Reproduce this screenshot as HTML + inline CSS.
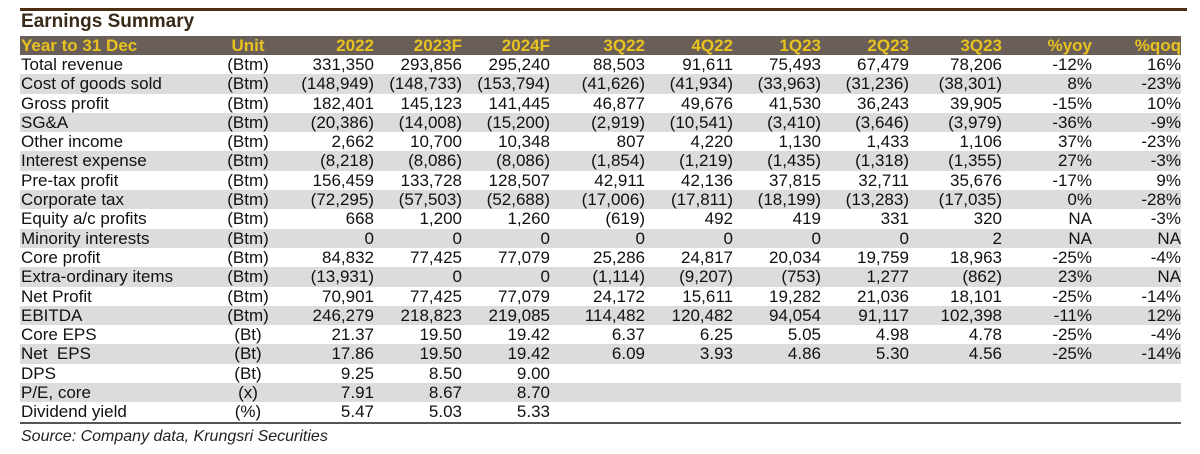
<!DOCTYPE html>
<html><head><meta charset="utf-8"><style>
body{margin:0;background:#fff;width:1200px;height:454px;position:relative;overflow:hidden;font-family:"Liberation Sans",Arial,sans-serif;}
.topline{position:absolute;left:20px;top:8px;width:1167px;height:3px;background:#4a3010;}
.title{position:absolute;left:21px;top:11px;font-size:19px;font-weight:bold;color:#3a2a18;}
table{position:absolute;left:20px;top:36px;width:1161px;border-collapse:collapse;table-layout:fixed;font-size:17px;color:#111;}
td{padding:0;height:19.3px;line-height:19.3px;text-align:right;white-space:nowrap;overflow:visible;}
td:first-child{text-align:left;padding-left:1px;}
td:nth-child(2){text-align:center;}
tr.h td{background:#6a5e58;color:#e8c21e;font-weight:bold;height:19px;line-height:19px;}
tr:nth-child(odd):not(.h) td{background:#dcdcdc;}
tr.last td{border-bottom:2px solid #555;}
.src{position:absolute;left:21px;top:428px;font-size:16px;font-style:italic;color:#222;}
</style></head><body>
<div class="topline"></div>
<div class="title">Earnings Summary</div>
<table>
<colgroup><col style="width:195px"><col style="width:66px"><col style="width:93px"><col style="width:88px"><col style="width:88px"><col style="width:95px"><col style="width:88px"><col style="width:88px"><col style="width:88px"><col style="width:93px"><col style="width:90px"><col style="width:89px"></colgroup>
<tr class="h"><td>Year to 31 Dec</td><td>Unit</td><td>2022</td><td>2023F</td><td>2024F</td><td>3Q22</td><td>4Q22</td><td>1Q23</td><td>2Q23</td><td>3Q23</td><td>%yoy</td><td>%qoq</td></tr>
<tr><td>Total revenue</td><td>(Btm)</td><td>331,350</td><td>293,856</td><td>295,240</td><td>88,503</td><td>91,611</td><td>75,493</td><td>67,479</td><td>78,206</td><td>-12%</td><td>16%</td></tr>
<tr><td>Cost of goods sold</td><td>(Btm)</td><td>(148,949)</td><td>(148,733)</td><td>(153,794)</td><td>(41,626)</td><td>(41,934)</td><td>(33,963)</td><td>(31,236)</td><td>(38,301)</td><td>8%</td><td>-23%</td></tr>
<tr><td>Gross profit</td><td>(Btm)</td><td>182,401</td><td>145,123</td><td>141,445</td><td>46,877</td><td>49,676</td><td>41,530</td><td>36,243</td><td>39,905</td><td>-15%</td><td>10%</td></tr>
<tr><td>SG&amp;A</td><td>(Btm)</td><td>(20,386)</td><td>(14,008)</td><td>(15,200)</td><td>(2,919)</td><td>(10,541)</td><td>(3,410)</td><td>(3,646)</td><td>(3,979)</td><td>-36%</td><td>-9%</td></tr>
<tr><td>Other income</td><td>(Btm)</td><td>2,662</td><td>10,700</td><td>10,348</td><td>807</td><td>4,220</td><td>1,130</td><td>1,433</td><td>1,106</td><td>37%</td><td>-23%</td></tr>
<tr><td>Interest expense</td><td>(Btm)</td><td>(8,218)</td><td>(8,086)</td><td>(8,086)</td><td>(1,854)</td><td>(1,219)</td><td>(1,435)</td><td>(1,318)</td><td>(1,355)</td><td>27%</td><td>-3%</td></tr>
<tr><td>Pre-tax profit</td><td>(Btm)</td><td>156,459</td><td>133,728</td><td>128,507</td><td>42,911</td><td>42,136</td><td>37,815</td><td>32,711</td><td>35,676</td><td>-17%</td><td>9%</td></tr>
<tr><td>Corporate tax</td><td>(Btm)</td><td>(72,295)</td><td>(57,503)</td><td>(52,688)</td><td>(17,006)</td><td>(17,811)</td><td>(18,199)</td><td>(13,283)</td><td>(17,035)</td><td>0%</td><td>-28%</td></tr>
<tr><td>Equity a/c profits</td><td>(Btm)</td><td>668</td><td>1,200</td><td>1,260</td><td>(619)</td><td>492</td><td>419</td><td>331</td><td>320</td><td>NA</td><td>-3%</td></tr>
<tr><td>Minority interests</td><td>(Btm)</td><td>0</td><td>0</td><td>0</td><td>0</td><td>0</td><td>0</td><td>0</td><td>2</td><td>NA</td><td>NA</td></tr>
<tr><td>Core profit</td><td>(Btm)</td><td>84,832</td><td>77,425</td><td>77,079</td><td>25,286</td><td>24,817</td><td>20,034</td><td>19,759</td><td>18,963</td><td>-25%</td><td>-4%</td></tr>
<tr><td>Extra-ordinary items</td><td>(Btm)</td><td>(13,931)</td><td>0</td><td>0</td><td>(1,114)</td><td>(9,207)</td><td>(753)</td><td>1,277</td><td>(862)</td><td>23%</td><td>NA</td></tr>
<tr><td>Net Profit</td><td>(Btm)</td><td>70,901</td><td>77,425</td><td>77,079</td><td>24,172</td><td>15,611</td><td>19,282</td><td>21,036</td><td>18,101</td><td>-25%</td><td>-14%</td></tr>
<tr><td>EBITDA</td><td>(Btm)</td><td>246,279</td><td>218,823</td><td>219,085</td><td>114,482</td><td>120,482</td><td>94,054</td><td>91,117</td><td>102,398</td><td>-11%</td><td>12%</td></tr>
<tr><td>Core EPS</td><td>(Bt)</td><td>21.37</td><td>19.50</td><td>19.42</td><td>6.37</td><td>6.25</td><td>5.05</td><td>4.98</td><td>4.78</td><td>-25%</td><td>-4%</td></tr>
<tr><td>Net &nbsp;EPS</td><td>(Bt)</td><td>17.86</td><td>19.50</td><td>19.42</td><td>6.09</td><td>3.93</td><td>4.86</td><td>5.30</td><td>4.56</td><td>-25%</td><td>-14%</td></tr>
<tr><td>DPS</td><td>(Bt)</td><td>9.25</td><td>8.50</td><td>9.00</td><td></td><td></td><td></td><td></td><td></td><td></td><td></td></tr>
<tr><td>P/E, core</td><td>(x)</td><td>7.91</td><td>8.67</td><td>8.70</td><td></td><td></td><td></td><td></td><td></td><td></td><td></td></tr>
<tr class="last"><td>Dividend yield</td><td>(%)</td><td>5.47</td><td>5.03</td><td>5.33</td><td></td><td></td><td></td><td></td><td></td><td></td><td></td></tr>
</table>
<div class="src">Source: Company data, Krungsri Securities</div>
</body></html>
